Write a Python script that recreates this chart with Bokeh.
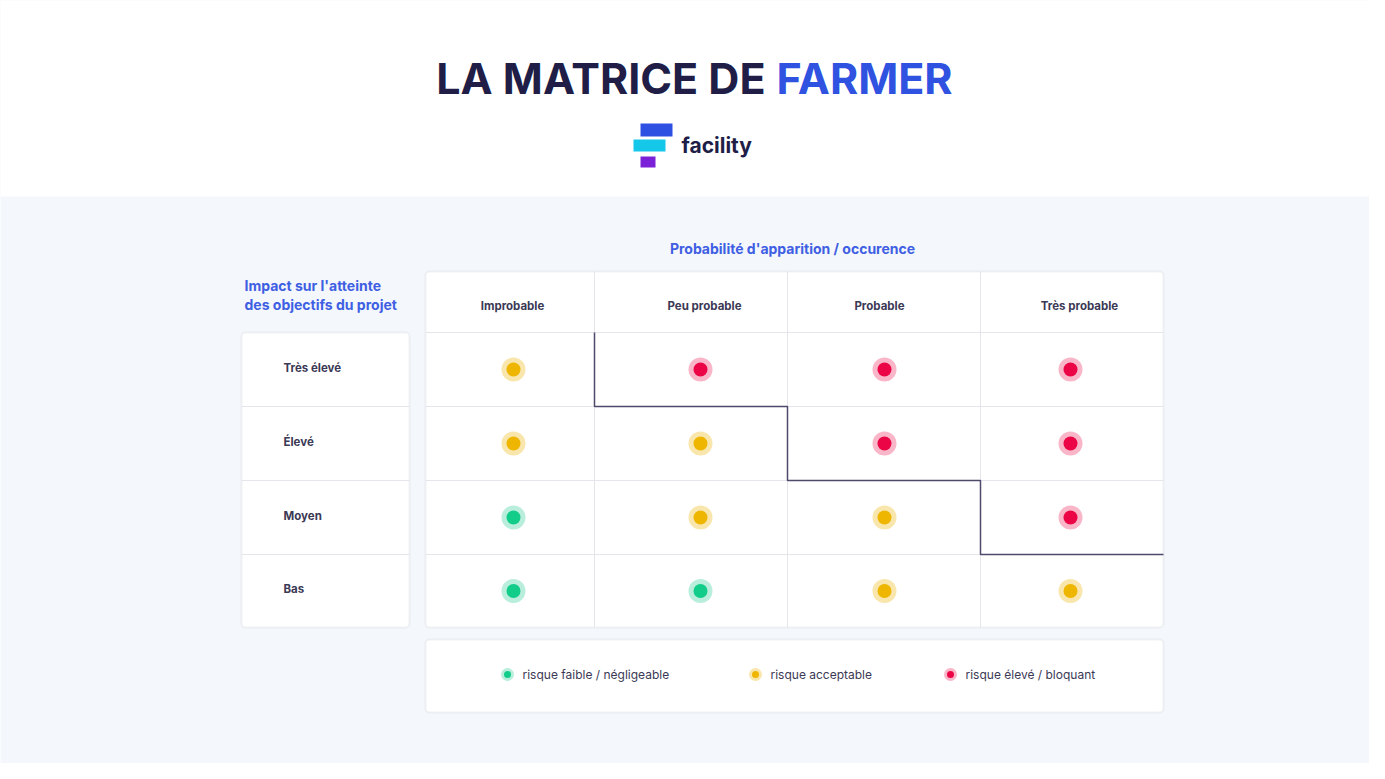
from bokeh.plotting import figure
from bokeh.models import Range1d, BoxAnnotation, ColumnDataSource
from bokeh.core.properties import value
from bokeh.embed import file_html
from bokeh.resources import INLINE

# ---------------- data ----------------
title_dark = "LA MATRICE DE"
title_blue = "FARMER"
brand = "facility"
x_title = "Probabilité d'apparition / occurence"
y_title = ["Impact sur l'atteinte", "des objectifs du projet"]
cols = ["Improbable", "Peu probable", "Probable", "Très probable"]
rows = ["Très élevé", "Élevé", "Moyen", "Bas"]
# 0 = faible / négligeable, 1 = acceptable, 2 = élevé / bloquant
risk = [
    [1, 2, 2, 2],
    [1, 1, 2, 2],
    [0, 1, 1, 2],
    [0, 0, 1, 1],
]
legend_labels = ["risque faible / négligeable", "risque acceptable", "risque élevé / bloquant"]

# ---------------- layout / style ----------------
FONT = value("Inter")
DARK = "#201d47"
BLUE = "#2f52e0"
TXT = "#3b3955"
GRID = "#e4e6eb"
BORDER = "#d2d5db"
BG = "#f4f7fc"
inner_col = ["#12cc8a", "#eeb600", "#eb0546"]
halo_col = ["#b8eedb", "#f9e6ac", "#f9b6c8"]

col_edges = [425, 594, 787, 980, 1163]
row_edges = [332, 406, 480, 554, 627]
head_top = 271
head_y = 305
head_x = [512, 704, 879, 1079]
dot_x = [513, 700, 884, 1070]
dot_dy = 0
left_l, left_r, label_x = 241, 409, 283
leg_top, leg_bot, leg_y = 639, 712, 674
leg_dot_x = [507, 755, 950]

W, H = 1369, 763
p = figure(width=W, height=H, output_backend="svg", toolbar_location=None,
           x_range=Range1d(0, W), y_range=Range1d(H, 0),
           min_border=0, background_fill_color=BG, border_fill_color=BG)
p.axis.visible = False
p.grid.visible = False
p.outline_line_color = None

# white top band
p.quad(left=[0], right=[W], top=[0], bottom=[196], fill_color="white", line_color=None)

# title
p.text(x=[765], y=[77], text=[title_dark], text_align="right", text_baseline="middle",
       text_font=FONT, text_font_size="43px", text_font_style="bold", text_color=DARK)
p.text(x=[776], y=[77], text=[title_blue], text_align="left", text_baseline="middle",
       text_font=FONT, text_font_size="43px", text_font_style="bold", text_color=BLUE)

# logo
p.quad(left=[640, 633, 640], right=[672, 665, 655], top=[123, 139, 156], bottom=[136, 151, 167],
       fill_color=["#2d50e2", "#15c8ea", "#7b22d8"], line_color=None)
p.text(x=[681], y=[145], text=[brand], text_align="left", text_baseline="middle",
       text_font=FONT, text_font_size="21px", text_font_style="bold", text_color=DARK)

# axis titles
p.text(x=[792], y=[248], text=[x_title], text_align="center", text_baseline="middle",
       text_font=FONT, text_font_size="14px", text_font_style="bold", text_color="#3f5fe3")
p.text(x=[244, 244], y=[285, 304], text=y_title, text_align="left", text_baseline="middle",
       text_font=FONT, text_font_size="14px", text_font_style="bold", text_color="#3f5fe3")

# boxes (white, rounded)
for (l, r, t, b) in [(col_edges[0], col_edges[-1], head_top, row_edges[-1]),
                     (left_l, left_r, row_edges[0], row_edges[-1]),
                     (col_edges[0], col_edges[-1], leg_top, leg_bot)]:
    p.add_layout(BoxAnnotation(left=l, right=r, top=t, bottom=b, fill_color="white", fill_alpha=1,
                               line_color=BORDER, line_width=2, border_radius=4, level="underlay"))

# grid lines
p.segment(x0=col_edges[1:-1], x1=col_edges[1:-1], y0=[head_top] * 3, y1=[row_edges[-1]] * 3,
          line_color=GRID, line_width=1)
p.segment(x0=[col_edges[0]] * 4, x1=[col_edges[-1]] * 4, y0=row_edges[:-1], y1=row_edges[:-1],
          line_color=GRID, line_width=1)
p.segment(x0=[left_l] * 3, x1=[left_r] * 3, y0=row_edges[1:-1], y1=row_edges[1:-1],
          line_color=GRID, line_width=1)

# staircase boundary derived from the red cells
nred = [sum(1 for i in range(len(rows)) if risk[i][j] == 2) for j in range(len(cols))]
sx, sy = [col_edges[1]], [row_edges[nred[0]]]
for j in range(1, len(cols)):
    sx += [col_edges[j], col_edges[j + 1]]
    sy += [row_edges[nred[j]], row_edges[nred[j]]]
p.line(sx, sy, line_color="#4d4a6b", line_width=1.5)

# headers & row labels
p.text(x=head_x, y=[head_y] * 4, text=cols, text_align="center", text_baseline="middle",
       text_font=FONT, text_font_size="11.5px", text_font_style="bold", text_color=TXT)
row_cy = [(row_edges[i] + row_edges[i + 1]) / 2 for i in range(4)]
p.text(x=[label_x] * 4, y=[c - 2 for c in row_cy], text=rows, text_align="left", text_baseline="middle",
       text_font=FONT, text_font_size="11.5px", text_font_style="bold", text_color=TXT)

# dots
xs, ys, ic, hc = [], [], [], []
for i in range(len(rows)):
    for j in range(len(cols)):
        xs.append(dot_x[j]); ys.append(row_cy[i] + dot_dy)
        ic.append(inner_col[risk[i][j]]); hc.append(halo_col[risk[i][j]])
src = ColumnDataSource(dict(x=xs, y=ys, ic=ic, hc=hc))
p.scatter("x", "y", source=src, size=24, fill_color="hc", line_color=None)
p.scatter("x", "y", source=src, size=14, fill_color="ic", line_color=None)

# legend
p.scatter(leg_dot_x, [leg_y] * 3, size=13, fill_color=halo_col, line_color=None)
p.scatter(leg_dot_x, [leg_y] * 3, size=7, fill_color=inner_col, line_color=None)
p.text(x=[x + 15 for x in leg_dot_x], y=[leg_y] * 3, text=legend_labels, text_align="left",
       text_baseline="middle", text_font=FONT, text_font_size="12px", text_color=TXT)

open("out.html", "w").write(file_html(p, INLINE))
